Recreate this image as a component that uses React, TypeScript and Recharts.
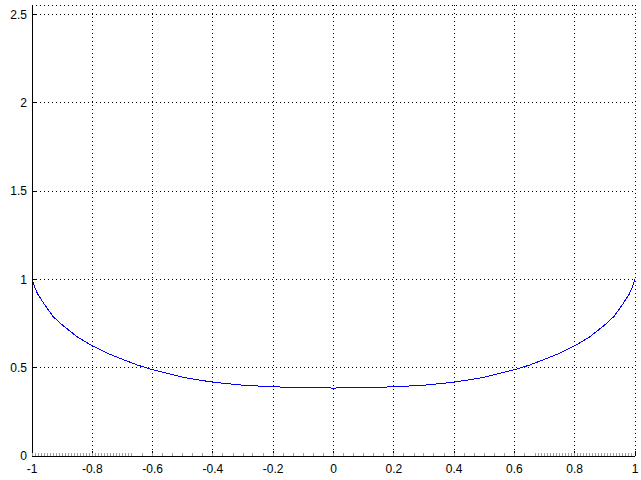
import { ComposedChart, Line, Scatter, XAxis, YAxis, CartesianGrid } from "recharts";

const xTicks = [-1, -0.8, -0.6, -0.4, -0.2, 0, 0.2, 0.4, 0.6, 0.8, 1];
const yTicks = [0, 0.5, 1, 1.5, 2, 2.5];

// curve
const curveX = [
  -1, -0.99, -0.98, -0.96, -0.93, -0.9, -0.85, -0.8, -0.75, -0.7, -0.65, -0.6, -0.5, -0.4, -0.3, -0.2, -0.1,
  0, 0.1, 0.2, 0.3, 0.4, 0.5, 0.6, 0.65, 0.7, 0.75, 0.8, 0.85, 0.9, 0.93, 0.96, 0.98, 0.99, 1,
];
const curveY = [
  1, 0.95, 0.915, 0.862, 0.79, 0.743, 0.675, 0.624, 0.582, 0.548, 0.515, 0.489, 0.446, 0.418, 0.401, 0.392, 0.387,
  0.385, 0.387, 0.392, 0.401, 0.418, 0.446, 0.489, 0.515, 0.548, 0.582, 0.624, 0.675, 0.743, 0.79, 0.862, 0.915, 0.95, 1,
];

// grey sample marks along the x axis
const rugX = [
  -1, -0.99, -0.98, -0.97, -0.96, -0.95, -0.94, -0.93, -0.92, -0.91, -0.9, -0.89, -0.88, -0.87, -0.86, -0.85, -0.84,
  -0.83, -0.82, -0.81, -0.8, -0.79, -0.78, -0.77, -0.76, -0.75, -0.74, -0.73, -0.72, -0.71, -0.7, -0.69, -0.68, -0.67,
  -0.633, -0.6, -0.567, -0.533, -0.5, -0.467, -0.433, -0.4, -0.367, -0.333, -0.3, -0.267, -0.233, -0.2, -0.167,
  -0.133, -0.1, -0.067, -0.033, 0, 0.033, 0.067, 0.1, 0.133, 0.167, 0.2, 0.233, 0.267, 0.3, 0.333, 0.367, 0.4,
  0.433, 0.467, 0.5, 0.533, 0.567, 0.6, 0.633,
  0.67, 0.68, 0.69, 0.7, 0.71, 0.72, 0.73, 0.74, 0.75, 0.76, 0.77, 0.78, 0.79, 0.8, 0.81, 0.82, 0.83, 0.84, 0.85,
  0.86, 0.87, 0.88, 0.89, 0.9, 0.91, 0.92, 0.93, 0.94, 0.95, 0.96, 0.97, 0.98, 0.99, 1,
];

const curve = curveX.map((x, i) => ({ x, y: curveY[i] }));
const rug = rugX.map((x) => ({ x, y: 0 }));

const font = { fontFamily: "'Liberation Sans', Arial, sans-serif", fontSize: 12, fill: "#000" };

const RugMark = (props: any) => {
  const { cx, cy } = props;
  return <line x1={cx} x2={cx} y1={cy - 3} y2={cy + 3} stroke="#a0a0a0" strokeWidth={1} />;
};

export default function App() {
  return (
    <div style={{ position: "absolute", left: 0, top: 0, background: "#fff", shapeRendering: "crispEdges" }}>
      <ComposedChart width={641} height={480} margin={{ top: 5, right: 6, bottom: 0, left: 0 }}>
        <CartesianGrid stroke="#000" strokeDasharray="1 3" />
        <XAxis
          dataKey="x"
          type="number"
          domain={[-1, 1]}
          ticks={xTicks}
          allowDataOverflow
          height={24}
          tickSize={-5}
          tickMargin={13}
          stroke="#000"
          tick={font}
          interval={0}
        />
        <XAxis
          xAxisId="top"
          orientation="top"
          type="number"
          domain={[-1, 1]}
          ticks={xTicks}
          allowDataOverflow
          height={0}
          tickSize={-5}
          tick={false}
          stroke="#000"
        />
        <YAxis
          type="number"
          domain={[0, 2.555]}
          ticks={yTicks}
          allowDataOverflow
          width={32}
          tickSize={-5}
          tickMargin={10}
          stroke="#000"
          tick={font}
          interval={0}
        />
        <YAxis
          yAxisId="right"
          orientation="right"
          type="number"
          domain={[0, 2.555]}
          ticks={yTicks}
          allowDataOverflow
          width={0}
          tickSize={-5}
          tick={false}
          stroke="#000"
        />
        <Scatter data={rug} dataKey="y" shape={RugMark} isAnimationActive={false} />
        <Line
          data={curve}
          dataKey="y"
          type="linear"
          stroke="#0000ff"
          strokeWidth={1}
          dot={false}
          activeDot={false}
          isAnimationActive={false}
        />
      </ComposedChart>
    </div>
  );
}
